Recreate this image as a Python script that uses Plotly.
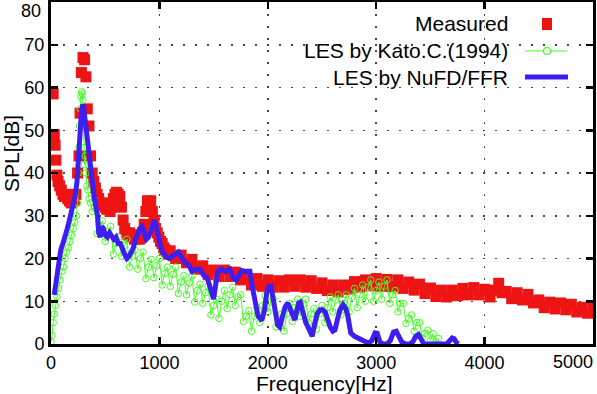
import plotly.graph_objects as go

# ---------------- data ----------------
x_ticks = [0, 1000, 2000, 3000, 4000]
y_ticks = [0, 10, 20, 30, 40, 50, 60, 70]
x_end_label = "5000"
y_end_label = "80"

series_names = ["Measured", "LES by Kato.C.(1994)", "LES by NuFD/FFR"]

meas_freq = [20, 30, 38, 45, 55, 65, 80, 95, 110, 125, 140, 155, 170, 185, 200, 215, 230, 245,
             258, 268, 280, 295, 310, 322, 335, 350, 365, 380, 395, 410, 425, 440, 455, 470,
             485, 500, 515, 530, 545, 560, 575, 590, 605, 620, 635, 650, 665, 680, 695, 710,
             725, 740, 755, 770, 785, 800, 815, 830, 845, 860, 875, 890, 905, 920, 935, 950,
             965, 980, 995, 1010, 1025, 1040, 1055, 1070, 1085,
             1100, 1150, 1200, 1250, 1300, 1350, 1400, 1450, 1500, 1550, 1600, 1650, 1700,
             1750, 1800, 1850, 1900, 1950, 2000, 2050, 2100, 2150, 2200, 2250, 2300, 2350,
             2400, 2450, 2500, 2550, 2600, 2650, 2700, 2750, 2800, 2850, 2900, 2950, 3000,
             3050, 3100, 3150, 3200, 3250, 3300, 3350, 3400, 3450, 3500, 3550, 3600, 3650,
             3700, 3750, 3800, 3850, 3900, 3950, 4000, 4050, 4100, 4130, 4160, 4200, 4250,
             4300, 4350, 4400, 4450, 4500, 4550, 4600, 4650, 4700, 4750, 4800, 4850, 4900,
             4950, 5000]
meas_spl = [58.5, 49, 46.5, 43, 39.5, 38, 37, 36, 35, 34.5, 35, 34, 33.5, 33, 34, 33.5, 35, 40,
            44, 54, 63.5, 67, 66.5, 62.5, 55, 51, 44, 40, 38, 36.5, 35, 34, 33, 32.5,
            33, 32, 31.5, 32, 31, 32, 34, 35, 35.5, 35, 34.5, 32, 29, 27, 26, 25.5,
            26, 25, 25.5, 24.5, 25, 25.5, 24.5, 25, 26, 28, 31, 33.5, 33, 33.5, 31, 29,
            27, 26, 25, 24, 23.5, 22.5, 22, 21.5, 21,
            21.8, 20.0, 20.8, 19.0, 19.8, 17.5, 18.3, 16.2, 17.3, 15.8, 17.3, 15.8, 16.8,
            15.0, 15.8, 13.8, 15.3, 13.5, 15.0, 13.3, 14.8, 13.3, 15.0, 13.5, 15.0, 13.3,
            14.8, 13.0, 14.3, 12.5, 13.8, 12.2, 13.8, 12.8, 14.6, 13.3, 15.0, 13.6, 15.3,
            13.5, 15.1, 13.4, 15.0, 13.0, 14.5, 12.6, 14.0, 11.8, 13.1, 11.1, 12.6, 11.0,
            12.6, 11.3, 13.0, 11.5, 13.2, 11.5, 12.8, 11.0, 12.6, 14.2, 12.0, 12.3, 10.6,
            12.0, 10.3, 11.6, 9.6, 10.3, 8.5, 9.8, 8.2, 9.6, 8.0, 9.3, 7.5, 8.6,
            7.2, 8.4]

kato_freq = [0, 10, 20, 30, 40, 55, 70, 85, 100, 115, 130, 145, 160, 175, 190, 205, 220, 235,
             245, 252, 258, 264, 270, 276, 282, 288, 294, 300, 305, 310, 316, 322, 330, 340,
             350, 365, 380,
             400, 425, 450, 475, 500, 525, 550, 575, 600, 625, 650, 675, 700, 725, 750, 775,
             800, 825, 850, 875, 900, 925, 950, 975, 1000, 1025, 1050, 1075, 1100, 1125,
             1150, 1175, 1200, 1225, 1250, 1275, 1300, 1325, 1350, 1375, 1400, 1425, 1450,
             1475, 1500, 1525, 1550, 1575, 1600, 1625, 1650, 1675, 1700, 1725, 1750, 1775,
             1800, 1825, 1850, 1875, 1900, 1925, 1950, 1975, 2000, 2025, 2050, 2075, 2100,
             2125, 2150, 2175, 2200, 2225, 2250, 2275, 2300, 2325, 2350, 2375, 2400, 2425,
             2450, 2475, 2500, 2525, 2550, 2575, 2600, 2625, 2650, 2675, 2700, 2725, 2750,
             2775, 2800, 2825, 2850, 2875, 2900, 2925, 2950, 2975, 3000, 3025, 3050, 3075,
             3100, 3125, 3150, 3175, 3200, 3225, 3250, 3275, 3300, 3325, 3350, 3375, 3400,
             3425, 3450, 3475, 3500, 3525, 3550, 3575]
kato_spl = [0.5, 2, 5, 7, 9, 11, 13, 15, 17, 18, 20, 21.5, 22.5, 24, 25.5, 27, 28.5, 30,
            33, 40, 46, 51, 55, 58, 59, 58.5, 57, 52, 46, 42, 44, 40, 37, 36,
            34, 33, 31,
            32, 25.8, 27.5, 28.8, 24, 26.3, 27.5, 21, 23.5, 25, 20.5, 23, 24.5, 18, 20.5, 22,
            17.5, 20, 21.5, 15.3, 18, 19.8, 15.5, 18.3, 20, 13.8, 16.5, 18, 13.5, 16.3,
            18, 11.8, 14.5, 16, 11.5, 14.3, 16, 9.8, 12.5, 14, 9.5, 12, 13.5,
            6.8, 9, 10.5, 6, 10, 12.5, 8.3, 11.5, 13.3, 9, 11, 11.5, 5.3,
            6.5, 7.8, 3, 6.5, 8.5, 5, 9, 11.3, 7.5, 9.8, 10.5, 4, 5,
            7, 3, 7, 9.5, 5.3, 8.5, 10.5, 6.5, 9.3, 10.5, 5, 7, 8.3,
            3.5, 7, 9, 5, 8.5, 11, 7.5, 10.3, 11.5, 6.8, 9.5, 11.5, 7.5,
            11, 13, 8.5, 11.5, 13.8, 10, 13.3, 15, 10, 12.5, 14.5, 10.5, 13.5,
            15, 9.5, 11.5, 12.5, 7.5, 9.5, 9.5, 4.8, 6, 6.8, 3, 5, 5,
            1.5, 2.5, 3.2, 0.8, 2.4, 0.5, 1.3]

nufd_freq = [30, 45, 60, 75, 90, 110, 130, 150, 170, 190, 210, 225, 240, 255, 268, 280, 292, 300,
             312, 325, 340, 355, 370, 385, 400, 415, 430, 440, 455, 470, 485, 500, 520, 540,
             560, 580, 600, 620, 640, 660, 680, 700, 720, 740, 760, 780, 800, 820, 840, 860,
             880, 900, 920, 940, 955, 970, 990, 1010, 1030, 1060, 1090, 1120, 1150, 1175,
             1200, 1235, 1270, 1300, 1340, 1375, 1410, 1440, 1465, 1485, 1500, 1520, 1540,
             1570, 1610, 1650, 1680, 1710, 1740, 1760, 1800, 1835, 1860, 1885, 1910, 1945,
             1970, 1990, 2010, 2030, 2050, 2070, 2090, 2110, 2135, 2160, 2185, 2210, 2230,
             2250, 2270, 2285, 2300, 2325, 2350, 2370, 2390, 2410, 2430, 2455, 2480, 2505,
             2530, 2555, 2575, 2600, 2620, 2645, 2665, 2695, 2715, 2735, 2750, 2765, 2800,
             2830, 2870, 2900, 2930, 2960, 2990, 3010, 3035, 3065, 3100, 3130, 3160, 3185,
             3210, 3235, 3270, 3310, 3340, 3365, 3390, 3410, 3440, 3500, 3560, 3600, 3650,
             3680, 3700, 3720, 3740, 3760]
nufd_spl = [11.5, 14, 16, 20, 22, 23.5, 25, 27, 29, 31, 33, 35, 38, 45, 50, 54, 56, 55.5,
            53, 50, 46, 43, 40, 37, 34, 32, 30, 26, 25, 27.5, 27, 25.5, 25, 26,
            25, 24.5, 25, 23.5, 23.5, 22, 21, 20, 20.5, 21.5, 22.5, 24.5, 26, 27, 27.5, 26,
            24.5, 25, 26.5, 28.5, 29, 27.5, 25, 23, 21.5, 20.5, 20, 20.5, 21, 21.5,
            20.5, 19, 18.5, 17, 17.5, 17.5, 16, 15.5, 13.5, 11, 10.5, 14, 17,
            17.5, 17, 17.5, 15.5, 15, 16.5, 17.2, 17, 17, 13, 9, 6.5, 5.5,
            8, 12, 13.5, 13.5, 10.5, 7, 4.5, 4, 6, 8.7, 9.6, 8, 6.5,
            5.6, 8, 9.6, 9.8, 7, 5, 4, 2.5, 1.8, 4.5, 7, 8, 8,
            7.5, 5.5, 4, 3, 3.3, 6, 8, 9.2, 8.5, 7, 4.5, 2.6, 1.8,
            1.5, 1, 0.6, 0.2, 0.8, 2.6, 2.5, 0.4, 0, 0, 0.8, 2.8, 3,
            1.8, 0.5, 0, 0, 0.6, 1.8, 2.2, 1.2, 0, 0, 0, 0, 0,
            0.8, 1.4, 1.2, 0.3, 0]

# ---------------- styles ----------------
RED = "#ee1414"
GREEN = "#44ff22"
BLUE = "#3c1ef0"
FONT = "Liberation Sans, Arial, sans-serif"

fig = go.Figure()
fig.add_trace(go.Scatter(
    x=meas_freq, y=meas_spl, mode="markers", name=series_names[0],
    marker=dict(symbol="square", size=11, color=RED, line=dict(width=0)),
))
fig.add_trace(go.Scatter(
    x=kato_freq, y=kato_spl, mode="lines+markers", name=series_names[1],
    line=dict(color=GREEN, width=1),
    marker=dict(symbol="circle-open", size=6.5, color=GREEN, line=dict(width=1, color=GREEN)),
))
fig.add_trace(go.Scatter(
    x=nufd_freq, y=nufd_spl, mode="lines", name=series_names[2],
    line=dict(color=BLUE, width=5),
))

axis_common = dict(
    automargin=False,
    showline=True, linecolor="black", linewidth=3, mirror="ticks",
    ticks="inside", ticklen=7, tickwidth=2.5, tickcolor="black",
    showgrid=True, gridcolor="#444444", gridwidth=1.5, griddash="2px,10px",
    zeroline=False,
    tickfont=dict(family=FONT, size=18, color="black"),
)

fig.update_xaxes(range=[0, 5000], tickvals=x_ticks, ticktext=[str(v) for v in x_ticks],
                 ticklabelstandoff=0, **axis_common)
fig.update_yaxes(range=[0, 80], tickvals=y_ticks, ticktext=[str(v) for v in y_ticks],
                 ticklabelstandoff=0, **axis_common)

# axis titles and the two edge tick labels (shifted inside the picture as in the original)
annotations = [
    dict(text="SPL[dB]", xref="paper", yref="paper", x=-0.074, y=0.558,
         textangle=-90, showarrow=False, xanchor="center", yanchor="middle",
         font=dict(family=FONT, size=21, color="black")),
    dict(text="Frequency[Hz]", xref="paper", yref="paper", x=0.5055, y=-0.1145,
         showarrow=False, xanchor="center", yanchor="middle",
         font=dict(family=FONT, size=21, color="black")),
    dict(text=y_end_label, xref="paper", yref="paper", x=-0.0148, y=0.9737,
         showarrow=False, xanchor="right", yanchor="middle",
         font=dict(family=FONT, size=18, color="black")),
    dict(text=x_end_label, xref="paper", yref="paper", x=0.9631, y=-0.0526,
         showarrow=False, xanchor="center", yanchor="middle",
         font=dict(family=FONT, size=18, color="black")),
]

# gnuplot-style legend (text on the left, sample on the right)
leg_y = [0.9357, 0.8596, 0.7807]
for name, yy in zip(series_names, leg_y):
    annotations.append(dict(text=name, xref="paper", yref="paper", x=0.8469, y=yy,
                            showarrow=False, xanchor="right", yanchor="middle",
                            font=dict(family=FONT, size=21, color="black")))

shapes = [
    dict(type="rect", xref="paper", yref="paper", x0=0.9059, x1=0.9244, y0=0.9181, y1=0.9532,
         fillcolor=RED, line=dict(width=0)),
    dict(type="line", xref="paper", yref="paper", x0=0.8745, x1=0.9520, y0=0.8567, y1=0.8567,
         line=dict(color=GREEN, width=1.2)),
    dict(type="circle", xref="paper", yref="paper", x0=0.9087, x1=0.9216, y0=0.8465, y1=0.8670,
         fillcolor="white", line=dict(color=GREEN, width=1.2)),
    dict(type="line", xref="paper", yref="paper", x0=0.8745, x1=0.9539, y0=0.7807, y1=0.7807,
         line=dict(color=BLUE, width=5)),
]

fig.update_layout(
    width=597, height=394,
    margin=dict(l=51, r=4, t=2, b=50),
    paper_bgcolor="white", plot_bgcolor="white",
    showlegend=False,
    annotations=annotations, shapes=shapes,
    font=dict(family=FONT, color="black"),
)

fig.write_html("out.html",
               config={"displayModeBar": False, "staticPlot": True},
               post_script="document.body.style.margin='0';document.body.style.padding='0';")
